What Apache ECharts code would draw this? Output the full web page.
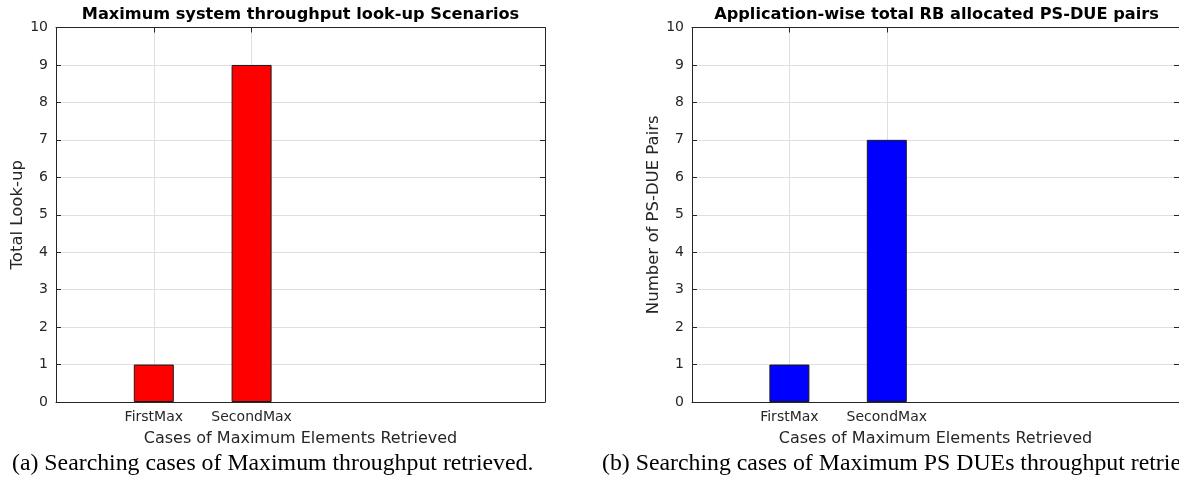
<!DOCTYPE html>
<html>
<head>
<meta charset="utf-8">
<script src="https://cdn.jsdelivr.net/npm/echarts@6/dist/echarts.min.js"></script>
<style>
  html, body { margin: 0; padding: 0; background: #ffffff; overflow: hidden; }
  #chart { width: 1179px; height: 480px; }
</style>
</head>
<body>
<div id="chart"></div>
<script>
// Cases on the x axis (placed at positions 1, 2 on a 0..5 axis)
const categories = ['FirstMax', 'SecondMax'];
// Panel (a): total look-ups per case
const lookupCounts = [1, 9];
// Panel (b): number of PS-DUE pairs per case
const pairCounts = [1, 7];
// Y tick range
const yMin = 0, yMax = 10, yStep = 1;
const xMin = 0, xMax = 5;

const panelTitles = ['Maximum system throughput look-up Scenarios', 'Application-wise total RB allocated PS-DUE pairs'];
const yNames = ['Total Look-up', 'Number of PS-DUE Pairs'];
const xName = 'Cases of Maximum Elements Retrieved';
const captions = ['(a) Searching cases of Maximum throughput retrieved.', '(b) Searching cases of Maximum PS DUEs throughput retrieved.'];

const AX = '#262626';
const GRIDC = '#dfdfdf';
const FONT = '"DejaVu Sans", sans-serif';
const tickPos = categories.map((c, i) => i + 1);

const grids = [
  { left: 56, top: 27.5, width: 489, height: 374.5 },
  { left: 692, top: 27.5, width: 489, height: 374.5 }
];

const xAxes = [], yAxes = [], series = [];
[lookupCounts, pairCounts].forEach((vals, g) => {
  // bottom x axis with case labels
  xAxes.push({
    type: 'value', gridIndex: g, min: xMin, max: xMax, position: 'bottom',
    name: xName, nameLocation: 'middle', nameGap: 29,
    nameTextStyle: { color: AX, fontFamily: FONT, fontSize: 16 },
    axisLine: { show: true, onZero: false, lineStyle: { color: AX, width: 1 } },
    axisTick: { show: true, inside: true, length: 5, customValues: tickPos, lineStyle: { color: AX } },
    axisLabel: { show: true, customValues: tickPos, margin: 8, color: AX, fontFamily: FONT, fontSize: 14,
      formatter: v => categories[Math.round(v) - 1] || '' },
    splitLine: { show: true, lineStyle: { color: GRIDC, width: 1 } }
  });
  // top box edge
  xAxes.push({
    type: 'value', gridIndex: g, min: xMin, max: xMax, position: 'top',
    axisLine: { show: true, onZero: false, lineStyle: { color: AX, width: 1 } },
    axisTick: { show: true, inside: true, length: 5, customValues: tickPos, lineStyle: { color: AX } },
    axisLabel: { show: false }, splitLine: { show: false }
  });
  yAxes.push({
    type: 'value', gridIndex: g, min: yMin, max: yMax, interval: yStep, position: 'left',
    name: yNames[g], nameLocation: 'middle', nameGap: 30,
    nameTextStyle: { color: AX, fontFamily: FONT, fontSize: 16.5 },
    axisLine: { show: true, onZero: false, lineStyle: { color: AX, width: 1 } },
    axisTick: { show: true, inside: true, length: 5, lineStyle: { color: AX } },
    axisLabel: { color: AX, fontFamily: FONT, fontSize: 14, margin: 8 },
    splitLine: { show: true, lineStyle: { color: GRIDC, width: 1 } }
  });
  // right box edge
  yAxes.push({
    type: 'value', gridIndex: g, min: yMin, max: yMax, interval: yStep, position: 'right',
    axisLine: { show: true, onZero: false, lineStyle: { color: AX, width: 1 } },
    axisTick: { show: true, inside: true, length: 5, lineStyle: { color: AX } },
    axisLabel: { show: false }, splitLine: { show: false }
  });
  series.push({
    type: 'bar', xAxisIndex: g * 2, yAxisIndex: g * 2,
    barWidth: 40, z: 3,
    itemStyle: { color: g === 0 ? '#ff0000' : '#0000ff', borderColor: '#1a1a1a', borderWidth: 1 },
    data: vals.map((v, i) => [tickPos[i], v])
  });
});

const graphics = [];
grids.forEach((gr, g) => {
  graphics.push({
    type: 'text', x: gr.left + gr.width / 2, y: 14.5,
    style: { text: panelTitles[g], font: 'bold 16.2px ' + FONT, fill: '#000', align: 'center', verticalAlign: 'middle' }
  });
});
graphics.push({ type: 'text', x: 12, y: 464,
  style: { text: captions[0], font: '23.8px "Liberation Serif", serif', fill: '#000', align: 'left', verticalAlign: 'middle' } });
graphics.push({ type: 'text', x: 602, y: 464,
  style: { text: captions[1], font: '23.8px "Liberation Serif", serif', fill: '#000', align: 'left', verticalAlign: 'middle' } });

const chart = echarts.init(document.getElementById('chart'), null, { renderer: 'canvas' });
chart.setOption({
  backgroundColor: '#ffffff',
  animation: false,
  grid: grids,
  xAxis: xAxes,
  yAxis: yAxes,
  series: series,
  graphic: graphics
});
</script>
</body>
</html>
